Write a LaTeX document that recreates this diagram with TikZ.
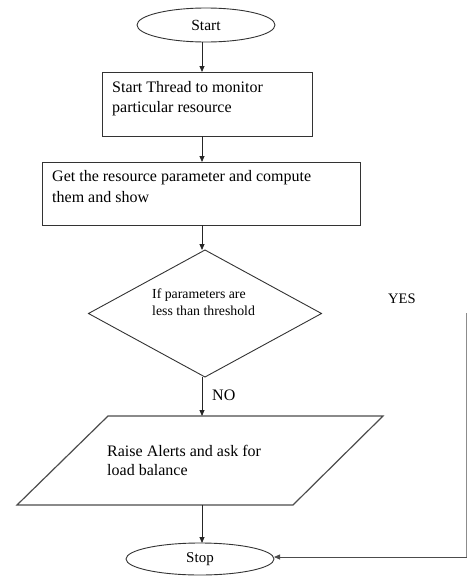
\documentclass[tikz,border=0pt]{standalone}
\usepackage{fontspec}
\setmainfont{Liberation Serif}
\usetikzlibrary{shapes.geometric,arrows.meta}
\begin{document}
\begin{tikzpicture}[x=1pt,y=-1pt,
  shapeline/.style={draw=black!80,line width=0.9pt},
  term/.style={shapeline,ellipse,inner sep=0pt,outer sep=0pt},
  boxnode/.style={shapeline,rectangle,inner sep=0pt,outer sep=0pt},
  decnode/.style={shapeline,diamond,inner sep=0pt,outer sep=0pt},
  txt/.style={anchor=base west,inner sep=0pt,font=\fontsize{16}{20}\selectfont},
  smalltxt/.style={anchor=base west,inner sep=0pt,font=\fontsize{13.8}{17}\selectfont},
  arr/.style={draw=black!85,line width=0.8pt,-{Triangle[length=6pt,width=5pt]}}]
\useasboundingbox (0,0) rectangle (468,576);
\coordinate (spine) at (202,0);
% Start
\node[term,minimum width=138pt,minimum height=34pt,font=\fontsize{15.5}{18}\selectfont] (start) at (206,25) {Start};
% Box 1
\node[boxnode,minimum width=210pt,minimum height=64pt] (b1) at (207,104) {};
\node[txt] (t1a) at (112,92.5) {Start Thread to monitor};
\node[txt] (t1b) at (112,112.5) {particular resource};
% Box 2
\node[boxnode,minimum width=318pt,minimum height=63pt] (b2) at (201,193.5) {};
\node[txt] (t2a) at (52,181.5) {Get the resource parameter and compute};
\node[txt] (t2b) at (52,202) {them and show};
% Decision
\node[decnode,minimum width=233pt,minimum height=127pt] (dec) at (205,313.5) {};
\node[smalltxt] (tda) at (152,298.5) {If parameters are};
\node[smalltxt] (tdb) at (152,315.5) {less than threshold};
\node[anchor=base west,inner sep=0pt,font=\fontsize{14.5}{17}\selectfont] (yes) at (388,303) {YES};
% Parallelogram
\coordinate (pgtop) at (202,416);
\coordinate (pgbot) at (202,505);
\draw[draw=black!70,line width=1.2pt] (108,416) -- (383,416) -- (293,505) -- (17,505) -- cycle;
\node[txt] (tpa) at (107,456.5) {Raise Alerts and ask for};
\node[txt] (tpb) at (107,475) {load balance};
\node[anchor=base west,inner sep=0pt,font=\fontsize{16}{20}\selectfont] (no) at (212,400) {NO};
% Stop
\node[term,minimum width=148pt,minimum height=32pt,font=\fontsize{15}{18}\selectfont] (stop) at (200,559) {Stop};
% Connectors
\draw[arr] (start.south -| spine) -- (b1.north -| spine);
\draw[arr] (b1.south -| spine) -- (b2.north -| spine);
\draw[arr] (b2.south -| spine) -- (dec.north -| spine);
\draw[arr] (dec.south -| spine) -- (pgtop);
\draw[arr] (pgbot) -- (stop.north -| spine);
\coordinate (yesA) at (466.5,313);
\coordinate (yesB) at (466.5,557);
\draw[draw=black!45,line width=0.9pt] (yesA) -- (yesB);
\draw[arr,draw=black!70] (yesB) -- (stop.east |- yesB);
\end{tikzpicture}
\end{document}
